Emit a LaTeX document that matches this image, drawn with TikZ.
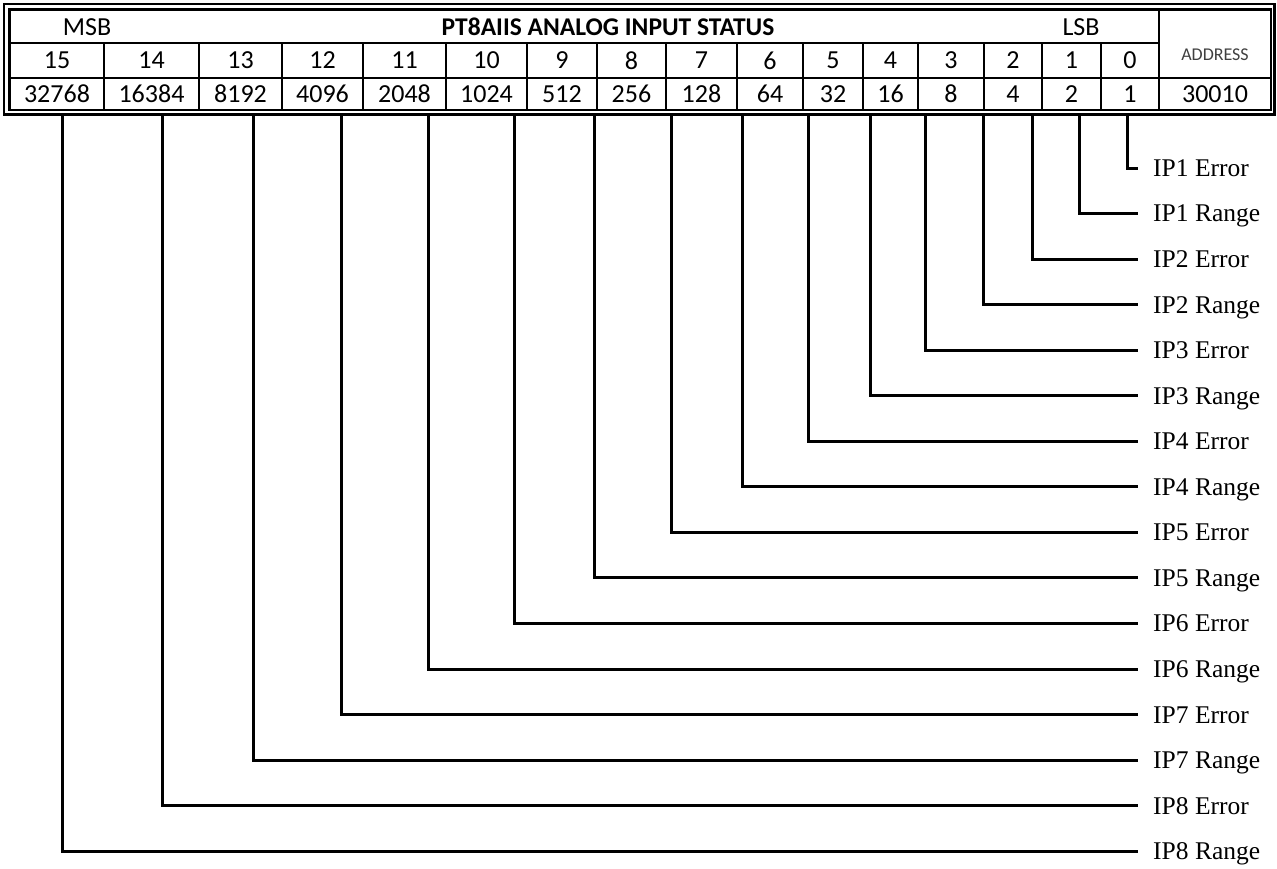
\documentclass[tikz,border=0pt]{standalone}
\usepackage{fontspec}
\setmainfont{Liberation Serif}
\newfontfamily\cellfont{Carlito}
\usetikzlibrary{positioning}

\begin{document}
\begin{tikzpicture}[
    x=1pt, y=-1pt,
    cell/.style={draw, line width=2.4pt, inner sep=0pt, font=\cellfont\fontsize{26}{30}\selectfont},
    hdr/.style={inner sep=0pt, font=\cellfont\fontsize{26}{30}\selectfont},
    title/.style={inner sep=0pt, font=\cellfont\bfseries\fontsize{25.5}{30}\selectfont},
    tag/.style={anchor=west, inner sep=0pt, text height=16.8pt, text depth=0pt, font=\fontsize{25.5}{30}\selectfont},
    wire/.style={line width=3pt}
]
\useasboundingbox (0,0) rectangle (1277,868);

% double frame round the register table
\draw[line width=2.6pt] (4,4) rectangle (1274.5,114.5);
\draw[line width=2.4pt] (9.5,9.5) rectangle (1271,110);

% header row and address cell
\node[cell, minimum width=1149pt, minimum height=34pt] (head) at (584.5,26) {};
\node[hdr] (msb) at (87,27) {MSB};
\node[title] (name) at (608,27) {PT8AIIS ANALOG INPUT STATUS};
\node[hdr] (lsb) at (1081,27) {LSB};
\node[cell, minimum width=112pt, minimum height=69pt] (addr) at (1215,43.5) {};
\node[hdr, font=\cellfont\fontsize{18}{22}\selectfont, text=black!75] (addrtxt) at (1215,55) {ADDRESS};
\node[cell, minimum width=112pt, minimum height=32pt] (addrval) at (1215,94) {30010};

% bit numbers and weights
\foreach \b/\xa/\xb/\v in {15/10/104/32768, 14/104/199/16384, 13/199/282/8192, 12/282/363/4096,
    11/363/446/2048, 10/446/527/1024, 9/527/597/512, 8/597/666/256, 7/666/737/128, 6/737/803/64,
    5/803/863/32, 4/863/918/16, 3/918/984/8, 2/984/1042/4, 1/1042/1101/2, 0/1101/1159/1} {
  \node[cell, minimum width=\xb pt-\xa pt, minimum height=35pt] (bit\b) at ({(\xa+\xb)/2},60.5) {\b};
  \node[cell, minimum width=\xb pt-\xa pt, minimum height=32pt] (val\b) at ({(\xa+\xb)/2},94) {\v};
}

% bit meaning connectors
\foreach \b/\xc/\txt in {0/1127/IP1 Error, 1/1079/IP1 Range, 2/1032/IP2 Error, 3/983/IP2 Range,
    4/925/IP3 Error, 5/870/IP3 Range, 6/808/IP4 Error, 7/742/IP4 Range,
    8/671/IP5 Error, 9/594/IP5 Range, 10/514/IP6 Error, 11/428/IP6 Range,
    12/341/IP7 Error, 13/253/IP7 Range, 14/162/IP8 Error, 15/62/IP8 Range} {
  \coordinate (top\b) at (\xc,115);
  \node[tag] (lbl\b) at (1153,168+\b*45.55) {\txt};
  \draw[wire] (top\b) |- ([xshift=-15pt]lbl\b.west);
}
\end{tikzpicture}
\end{document}
